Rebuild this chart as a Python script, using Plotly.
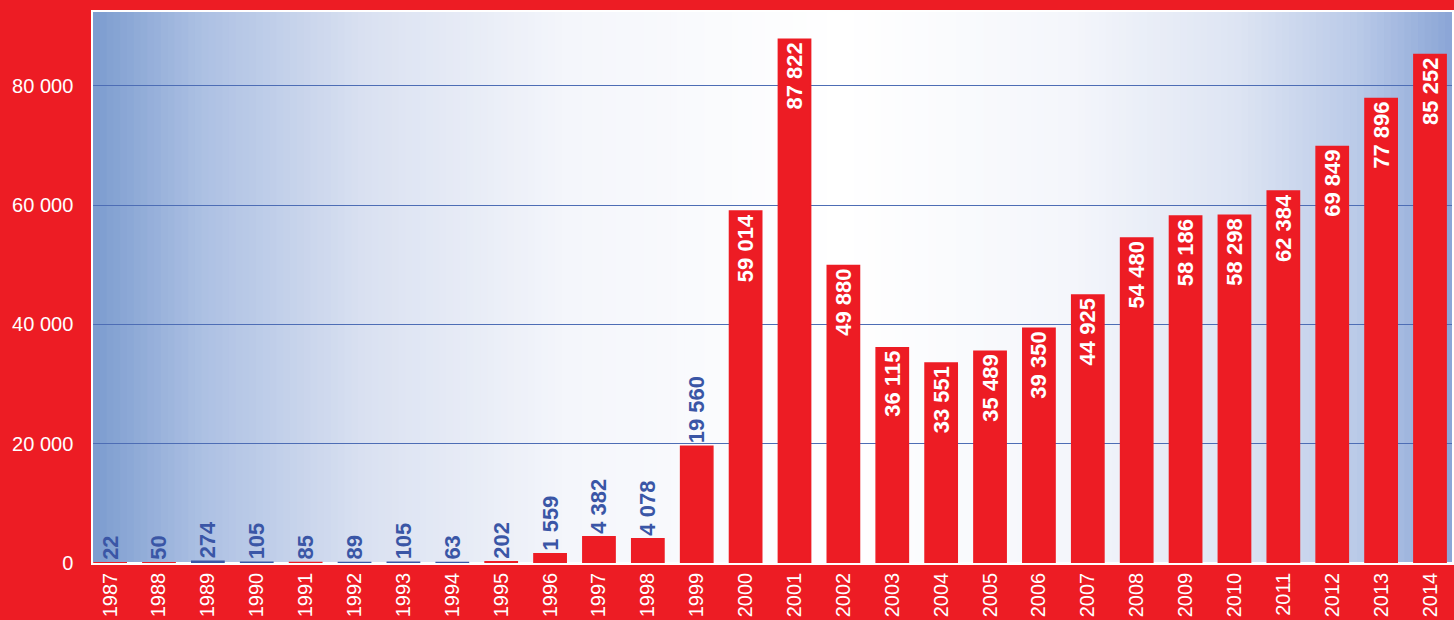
import plotly.graph_objects as go

years = [str(y) for y in range(1987, 2015)]
values = [22, 50, 274, 105, 85, 89, 105, 63, 202, 1559, 4382, 4078, 19560,
          59014, 87822, 49880, 36115, 33551, 35489, 39350, 44925, 54480,
          58186, 58298, 62384, 69849, 77896, 85252]
blue_years = ["1989", "1990", "1992", "1993", "1994"]
outside_until = "1999"
tick_vals = [0, 20000, 40000, 60000, 80000]
tick_text = ["0", "20 000", "40 000", "60 000", "80 000"]

RED = "#ED1C24"
BLUE = "#3A56A6"
FONT = "Liberation Sans, Arial, sans-serif"

def fmt(v):
    return f"{v:,}".replace(",", " ")

colors = [BLUE if y in blue_years else RED for y in years]
positions = ["outside" if int(y) <= int(outside_until) else "inside" for y in years]

fig = go.Figure()
fig.add_trace(go.Bar(
    x=years, y=values,
    marker=dict(color=colors, line=dict(color=colors, width=1.5)),
    width=0.66,
    text=[fmt(v) for v in values],
    textposition=positions,
    insidetextanchor="end",
    textangle=-90,
    outsidetextfont=dict(family=FONT, size=22, color=BLUE, weight="bold"),
    insidetextfont=dict(family=FONT, size=22, color="white", weight="bold"),
    constraintext="none",
    cliponaxis=False,
    hoverinfo="x+y",
))

# horizontal gradient background built from thin strips
stops = [(0.0, (124, 156, 207)), (0.08, (172, 192, 227)), (0.2, (218, 225, 241)),
         (0.35, (244, 246, 251)), (0.55, (255, 255, 255)), (0.72, (244, 246, 251)),
         (0.84, (222, 229, 243)), (0.93, (186, 202, 232)), (1.0, (138, 165, 214))]

def interp(t):
    for (a, ca), (b, cb) in zip(stops[:-1], stops[1:]):
        if a <= t <= b:
            f = (t - a) / (b - a) if b > a else 0
            return tuple(round(ca[i] + (cb[i] - ca[i]) * f) for i in range(3))
    return stops[-1][1]

n = 200
shapes = []
for i in range(n):
    x0 = i / n
    x1 = (i + 1) / n + 0.001
    c = interp((i + 0.5) / n)
    shapes.append(dict(type="rect", xref="paper", yref="paper", x0=x0, x1=x1,
                       y0=0, y1=1, fillcolor=f"rgb{c}", line=dict(width=0),
                       layer="below"))

fig.update_layout(
    width=1454, height=620,
    margin=dict(l=93, r=0, t=12, b=57),
    paper_bgcolor=RED,
    plot_bgcolor="rgba(0,0,0,0)",
    shapes=shapes,
    showlegend=False,
    font=dict(family=FONT, color="white"),
    xaxis=dict(
        type="category", range=[-0.35, 27.45],
        tickangle=-90, tickfont=dict(size=20, color="white"),
        showgrid=False, ticks="", showline=True, linecolor="white",
        linewidth=1.5, mirror=True,
    ),
    yaxis=dict(
        range=[0, 92400], tickvals=tick_vals, ticktext=tick_text,
        tickfont=dict(size=20, color="white"),
        showgrid=True, gridcolor="#4D6DB5", gridwidth=1.2,
        zeroline=True, zerolinecolor="white", zerolinewidth=1.5,
        showline=True, linecolor="white", linewidth=1.5, mirror=True,
        ticks="", ticklen=0, ticklabelstandoff=14, layer="below traces",
    ),
)

fig.write_html("out.html", config={"displayModeBar": False},
               post_script="document.body.style.margin='0';document.body.style.background='%s';" % RED)
